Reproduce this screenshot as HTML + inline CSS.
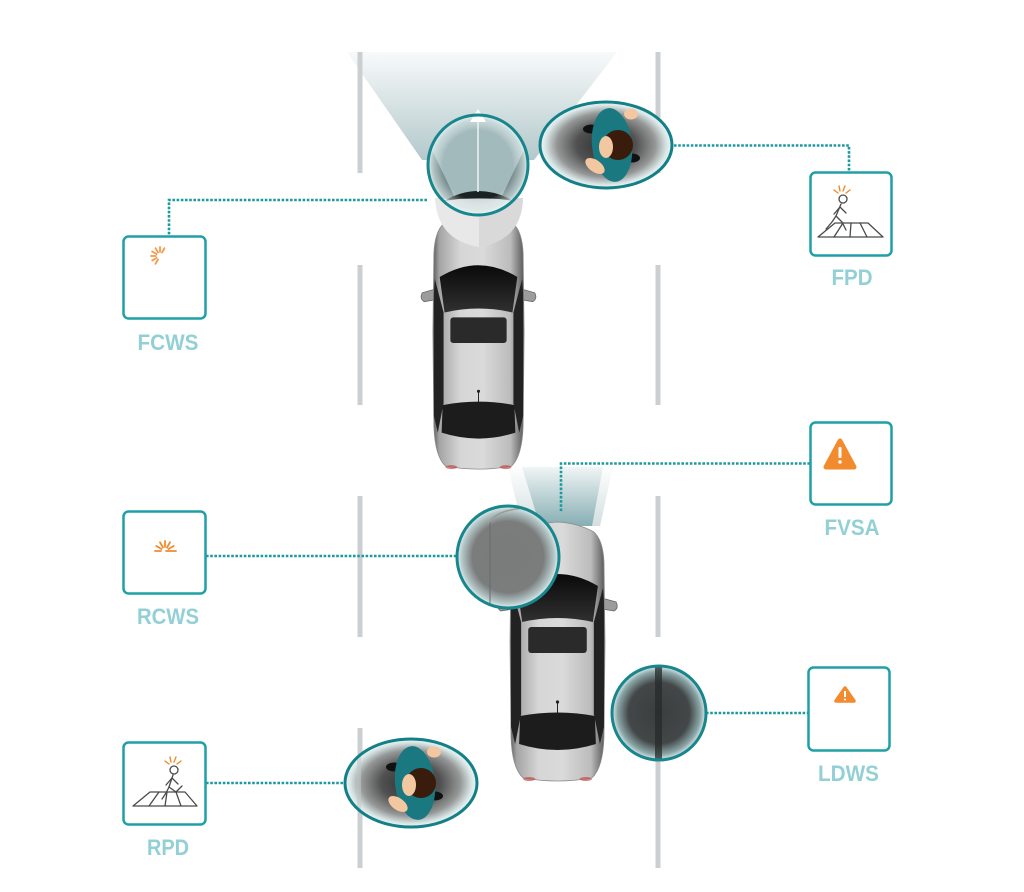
<!DOCTYPE html>
<html><head><meta charset="utf-8"><style>
html,body{margin:0;padding:0;background:#fff;}
svg{display:block;}
</style></head><body>
<svg width="1024" height="892" viewBox="0 0 1024 892" xmlns="http://www.w3.org/2000/svg">
<defs>
 <linearGradient id="body" x1="0" x2="1" y1="0" y2="0">
  <stop offset="0" stop-color="#5a5a5a"/>
  <stop offset="0.07" stop-color="#a4a4a4"/>
  <stop offset="0.3" stop-color="#d6d6d6"/>
  <stop offset="0.55" stop-color="#dadada"/>
  <stop offset="0.85" stop-color="#bcbcbc"/>
  <stop offset="1" stop-color="#585858"/>
 </linearGradient>
 <linearGradient id="glass" x1="0" y1="0" x2="0" y2="1">
  <stop offset="0" stop-color="#0a0a0a"/><stop offset="1" stop-color="#303030"/>
 </linearGradient>
 <linearGradient id="cone1" gradientUnits="userSpaceOnUse" x1="0" y1="52" x2="0" y2="165">
  <stop offset="0" stop-color="#f8fafa"/><stop offset="1" stop-color="#b0c6c9"/>
 </linearGradient>
 <linearGradient id="cone2a" gradientUnits="userSpaceOnUse" x1="0" y1="466" x2="0" y2="526">
  <stop offset="0" stop-color="#ffffff"/><stop offset="1" stop-color="#d3dfe0"/>
 </linearGradient>
 <linearGradient id="cone2b" gradientUnits="userSpaceOnUse" x1="0" y1="466" x2="0" y2="526">
  <stop offset="0" stop-color="#f2f6f6"/><stop offset="1" stop-color="#86aeb3"/>
 </linearGradient>
 <radialGradient id="glow" cx="0.5" cy="0.5" r="0.5">
  <stop offset="0" stop-color="#ffffff" stop-opacity="0"/>
  <stop offset="0.7" stop-color="#ffffff" stop-opacity="0"/>
  <stop offset="0.9" stop-color="#e4f2f2" stop-opacity="0.55"/>
  <stop offset="1" stop-color="#f2fafa" stop-opacity="0.9"/>
 </radialGradient>
 <radialGradient id="pedg" cx="0.5" cy="0.5" r="0.5">
  <stop offset="0" stop-color="#2e2e2e"/>
  <stop offset="0.45" stop-color="#515151"/>
  <stop offset="0.75" stop-color="#969898"/>
  <stop offset="0.92" stop-color="#d9e6e6"/>
  <stop offset="1" stop-color="#eef6f6"/>
 </radialGradient>
 <radialGradient id="greyg" cx="0.5" cy="0.5" r="0.5">
  <stop offset="0" stop-color="#7a7b7b"/>
  <stop offset="0.7" stop-color="#7b7d7d"/>
  <stop offset="0.9" stop-color="#b3c5c6"/>
  <stop offset="1" stop-color="#e4f1f1"/>
 </radialGradient>
 <radialGradient id="darkg" cx="0.5" cy="0.5" r="0.5">
  <stop offset="0" stop-color="#3b3e3e"/>
  <stop offset="0.65" stop-color="#434747"/>
  <stop offset="0.88" stop-color="#8aa5a7"/>
  <stop offset="1" stop-color="#e0eeee"/>
 </radialGradient>
 <clipPath id="cF"><circle cx="478" cy="165" r="50"/></clipPath>
 <clipPath id="cL"><circle cx="659" cy="713" r="47"/></clipPath>
 <clipPath id="cR"><circle cx="508" cy="557" r="51"/></clipPath>
 <clipPath id="cRP"><ellipse cx="411" cy="783" rx="66" ry="44"/></clipPath>

 <g id="car">
  <path d="M-8,80 Q-11,86 -6,89 L6,87 L6,76 Z" fill="#9c9c9c" stroke="#666" stroke-width="0.8"/>
  <path d="M108,80 Q111,86 106,89 L94,87 L94,76 Z" fill="#9c9c9c" stroke="#666" stroke-width="0.8"/>
  <path d="M14,10 Q30,1 50,0 Q70,1 86,10 Q95,18 96,40 L97,120 L96,215 Q95,246 84,256 Q50,262 16,256 Q5,246 4,215 L3,120 L4,40 Q5,18 14,10 Z" fill="url(#body)" stroke="#8a8a8a" stroke-width="0.8"/>
  <path d="M5,66 L14,100 L14,192 L8,222 L4,205 L4,80 Z" fill="#222"/>
  <path d="M95,66 L86,100 L86,192 L92,222 L96,205 L96,80 Z" fill="#222"/>
  <path d="M10,64 Q50,40 90,64 L85,100 Q50,92 15,100 Z" fill="url(#glass)"/>
  <rect x="21" y="105" width="58" height="26" rx="3" fill="#2a2a2a"/>
  <path d="M13,194 Q50,187 87,194 L88,222 Q50,234 12,222 Z" fill="#1c1c1c"/>
  <line x1="50" y1="180" x2="50" y2="192" stroke="#222" stroke-width="1"/>
  <circle cx="50" cy="180" r="1.6" fill="#222"/>
  <ellipse cx="22" cy="257" rx="6" ry="2" fill="#c0504a" opacity="0.7"/>
  <ellipse cx="78" cy="257" rx="6" ry="2" fill="#c0504a" opacity="0.7"/>
 </g>

 <g id="person">
  <ellipse cx="-21" cy="-16" rx="8" ry="4.5" fill="#111"/>
  <ellipse cx="20" cy="13" rx="8" ry="4.5" fill="#111"/>
  <ellipse cx="0" cy="0" rx="20" ry="37" fill="#1a7880" transform="rotate(-6)"/>
  <ellipse cx="19" cy="-31" rx="7" ry="5.5" fill="#f3c7a0"/>
  <ellipse cx="-17" cy="21" rx="11" ry="6" fill="#f3c7a0" transform="rotate(35 -17 21)"/>
  <circle cx="6" cy="0" r="15" fill="#3a1c0d"/>
  <ellipse cx="-6" cy="2" rx="7" ry="11" fill="#f3c7a0"/>
 </g>
</defs>

<!-- cones -->
<polygon points="347,52 617,52 534,160 422,160" fill="url(#cone1)"/>
<polygon points="508,467 613,467 600,526 522,526" fill="url(#cone2a)"/>
<polygon points="522,467 603,467 592,526 540,526" fill="url(#cone2b)"/>

<!-- lane lines -->
<g stroke="#cbcfd2" stroke-width="5">
 <line x1="360" y1="52" x2="360" y2="173"/>
 <line x1="360" y1="265" x2="360" y2="405"/>
 <line x1="360" y1="496" x2="360" y2="637"/>
 <line x1="360" y1="728" x2="360" y2="868"/>
 <line x1="658" y1="52" x2="658" y2="173"/>
 <line x1="658" y1="265" x2="658" y2="405"/>
 <line x1="658" y1="496" x2="658" y2="637"/>
 <line x1="658" y1="728" x2="658" y2="868"/>
</g>

<!-- cars -->
<use href="#car" transform="translate(430,214) scale(0.97,0.985)"/>
<use href="#car" transform="translate(507,522) scale(1.01,1)"/>

<!-- hood shape under FCWS lens -->
<path d="M435,198 L523,198 Q522,240 479,247 Q437,240 435,198 Z" fill="#e8e8e8"/>
<path d="M479,198 L523,198 Q522,240 479,247 Z" fill="#d9d9d9"/>

<!-- dotted connectors -->
<g fill="none" stroke="#1c9aa1" stroke-width="2.6" stroke-dasharray="2.6 1.6">
 <path d="M427,200 L169,200 L169,236"/>
 <path d="M674,145.5 L849,145.5 L849,172"/>
 <path d="M810,463.5 L561,463.5 L561,512"/>
 <path d="M206,556 L457,556"/>
 <path d="M706,713 L808,713"/>
 <path d="M206,783 L345,783"/>
</g>

<!-- FCWS lens -->
<g clip-path="url(#cF)">
 <rect x="420" y="110" width="120" height="110" fill="#72898b"/>
 <polygon points="412,108 544,108 502,196 454,196" fill="#a3babc"/>
 <rect x="420" y="199" width="120" height="20" fill="#d3dada"/>
 <path d="M444,201 Q478,181 514,201 Q478,195 444,201 Z" fill="#1b2222"/>
 <line x1="478" y1="118" x2="478" y2="192" stroke="#eef3f3" stroke-width="1.5"/>
</g>
<circle cx="478" cy="165" r="50" fill="url(#glow)"/>
<polygon points="478,109 470,122 486,122" fill="#ffffff"/>
<circle cx="478" cy="165" r="50" fill="none" stroke="#17868d" stroke-width="3"/>

<!-- FPD ellipse -->
<ellipse cx="606" cy="145" rx="66" ry="43" fill="url(#pedg)"/>
<use href="#person" transform="translate(612,145)"/>
<ellipse cx="606" cy="145" rx="66" ry="43" fill="none" stroke="#137f87" stroke-width="3"/>

<!-- RCWS lens -->
<circle cx="508" cy="557" r="51" fill="url(#greyg)"/>
<g clip-path="url(#cR)">
 <line x1="490" y1="520" x2="490" y2="610" stroke="#6a6a6a" stroke-width="1"/>
 <path d="M488,524 Q496,509 528,508" fill="none" stroke="#9c9c9c" stroke-width="1.5"/>
</g>
<circle cx="508" cy="557" r="51" fill="none" stroke="#17868d" stroke-width="3"/>

<!-- LDWS lens -->
<circle cx="659" cy="713" r="47" fill="url(#darkg)"/>
<g clip-path="url(#cL)">
 <rect x="655" y="664" width="7" height="98" fill="#262a2a" opacity="0.75"/>
</g>
<circle cx="659" cy="713" r="47" fill="none" stroke="#17868d" stroke-width="3"/>

<!-- RPD ellipse -->
<ellipse cx="411" cy="783" rx="66" ry="44" fill="url(#pedg)"/>
<g clip-path="url(#cRP)">
 <line x1="359" y1="735" x2="359" y2="830" stroke="#c2c8c9" stroke-width="4" opacity="0.55"/>
</g>
<use href="#person" transform="translate(415,783)"/>
<ellipse cx="411" cy="783" rx="66" ry="44" fill="none" stroke="#137f87" stroke-width="3"/>

<!-- boxes -->
<g fill="#ffffff" stroke="#1ea0a6" stroke-width="2.5">
 <rect x="123.5" y="236.5" width="82" height="82" rx="5"/>
 <rect x="810.5" y="172.5" width="81" height="83" rx="5"/>
 <rect x="810.5" y="422.5" width="81" height="82" rx="5"/>
 <rect x="123.5" y="511.5" width="82" height="82" rx="5"/>
 <rect x="123.5" y="742.5" width="82" height="82" rx="5"/>
 <rect x="808.5" y="667.5" width="81" height="83" rx="5"/>
</g>

<!-- FCWS icon burst -->
<g stroke="#f39a4a" stroke-width="1.8" stroke-linecap="round">
 <line x1="162" y1="252.5" x2="164.5" y2="248.2"/>
 <line x1="160" y1="252" x2="160" y2="247"/>
 <line x1="158" y1="252.5" x2="155.5" y2="248.2"/>
 <line x1="156.5" y1="254" x2="152.2" y2="251.5"/>
 <line x1="156" y1="256" x2="151" y2="256"/>
 <line x1="156.5" y1="258" x2="152.2" y2="260.5"/>
 <line x1="158" y1="259.5" x2="155.5" y2="263.8"/>
</g>

<!-- RCWS icon burst -->
<g stroke="#f08a2c" stroke-width="1.8" stroke-linecap="round">
 <line x1="168.5" y1="549" x2="173.7" y2="546"/>
 <line x1="167" y1="547.5" x2="170" y2="542.3"/>
 <line x1="165" y1="547" x2="165" y2="541"/>
 <line x1="163" y1="547.5" x2="160" y2="542.3"/>
 <line x1="161.5" y1="549" x2="156.3" y2="546"/>
 <line x1="161" y1="551" x2="155" y2="551"/>
 <line x1="166" y1="551" x2="176" y2="551"/>
</g>

<!-- FPD icon -->
<g stroke="#f08a2c" stroke-width="1.4" stroke-linecap="round">
 <line x1="838" y1="193" x2="834" y2="190"/>
 <line x1="840" y1="191" x2="839" y2="186"/>
 <line x1="843" y1="191" x2="845" y2="186"/>
 <line x1="846" y1="193" x2="850" y2="190"/>
</g>
<g fill="none" stroke="#4a4a4a" stroke-width="1.3" stroke-linecap="round" stroke-linejoin="round">
 <circle cx="843" cy="199" r="4" fill="#fff"/>
 <path d="M841,204 L836,216"/>
 <path d="M840,207 L834,214 M840,207 L846,213"/>
 <path d="M836,216 L832,222 L826,229 M836,216 L842,222 L846,230"/>
 <path d="M835,223 L868,223 L883,237 L818,237 Z"/>
 <path d="M843,223 L834,237 M851,223 L850,237 M860,223 L867,237"/>
</g>

<!-- RPD icon -->
<g stroke="#f08a2c" stroke-width="1.4" stroke-linecap="round">
 <line x1="169" y1="764" x2="165" y2="761"/>
 <line x1="171" y1="762" x2="170" y2="757"/>
 <line x1="174" y1="762" x2="176" y2="757"/>
 <line x1="177" y1="764" x2="181" y2="761"/>
</g>
<g fill="none" stroke="#4a4a4a" stroke-width="1.3" stroke-linecap="round" stroke-linejoin="round">
 <circle cx="174" cy="770" r="4" fill="#fff"/>
 <path d="M173,775 L169,787"/>
 <path d="M172,778 L166,785 M172,778 L178,784"/>
 <path d="M169,787 L166,793 L162,799 M169,787 L176,792 L182,786"/>
 <path d="M150,792 L185,792 L197,806 L133,806 Z"/>
 <path d="M159,792 L149,806 M167,792 L165,806 M176,792 L181,806"/>
</g>

<!-- FVSA icon -->
<path d="M840,441 L854,467 L826,467 Z" fill="#f28a2e" stroke="#f28a2e" stroke-width="5" stroke-linejoin="round"/>
<rect x="838.5" y="447" width="3" height="11" rx="1" fill="#fff"/>
<circle cx="840" cy="462" r="1.7" fill="#fff"/>

<!-- LDWS icon -->
<path d="M845,688 L854,701 L836,701 Z" fill="#f28a2e" stroke="#f28a2e" stroke-width="3.5" stroke-linejoin="round"/>
<rect x="844" y="691" width="2" height="6" fill="#fff"/>
<circle cx="845" cy="699.5" r="1" fill="#fff"/>

<!-- labels -->
<g font-family="'Liberation Sans', sans-serif" font-weight="bold" font-size="22" fill="#93d0d5" text-anchor="middle">
 <text x="168" y="350" textLength="61" lengthAdjust="spacingAndGlyphs">FCWS</text>
 <text x="852" y="285" textLength="41" lengthAdjust="spacingAndGlyphs">FPD</text>
 <text x="852" y="535" textLength="55" lengthAdjust="spacingAndGlyphs">FVSA</text>
 <text x="168" y="624" textLength="62" lengthAdjust="spacingAndGlyphs">RCWS</text>
 <text x="168" y="855" textLength="42" lengthAdjust="spacingAndGlyphs">RPD</text>
 <text x="848.5" y="781" textLength="61" lengthAdjust="spacingAndGlyphs">LDWS</text>
</g>
</svg>
</body></html>
